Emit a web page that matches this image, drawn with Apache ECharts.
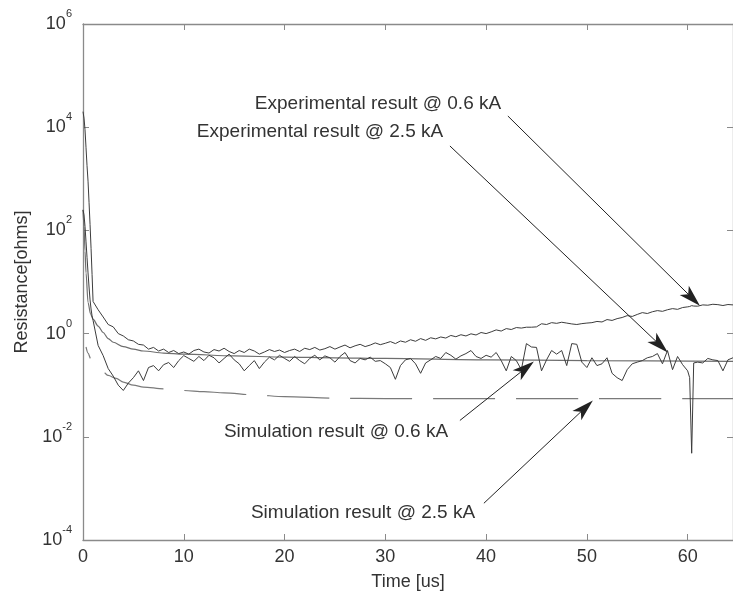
<!DOCTYPE html>
<html>
<head>
<meta charset="utf-8">
<script src="https://cdn.jsdelivr.net/npm/echarts@6/dist/echarts.min.js"></script>
<style>
  html, body { margin: 0; padding: 0; background: #fff; }
  #chart { width: 733px; height: 596px; }
</style>
</head>
<body>
<div id="chart"></div>
<script>
// time grid shared by the two measured curves [us]
const time = [
  0, 0.1, 0.2, 0.3, 0.4, 0.5, 0.6, 0.7, 0.8, 0.9, 1,
  1.5, 2, 2.5, 3, 3.5, 4, 4.5, 5, 5.5, 6, 6.5, 7, 7.5, 8, 8.5, 9, 9.5, 10,
  10.5, 11, 11.5, 12, 12.5, 13, 13.5, 14, 14.5, 15, 15.5, 16, 16.5, 17, 17.5, 18, 18.5, 19, 19.5, 20,
  20.5, 21, 21.5, 22, 22.5, 23, 23.5, 24, 24.5, 25, 25.5, 26, 26.5, 27, 27.5, 28, 28.5, 29, 29.5, 30,
  30.5, 31, 31.5, 32, 32.5, 33, 33.5, 34, 34.5, 35, 35.5, 36, 36.5, 37, 37.5, 38, 38.5, 39, 39.5, 40,
  40.5, 41, 41.5, 42, 42.5, 43, 43.5, 44, 44.5, 45, 45.5, 46, 46.5, 47, 47.5, 48, 48.5, 49, 49.5, 50,
  50.5, 51, 51.5, 52, 52.5, 53, 53.5, 54, 54.5, 55, 55.5, 56, 56.5, 57, 57.5, 58, 58.5, 59, 59.5, 60,
  60.2, 60.4, 60.6, 61, 61.5, 62, 62.5, 63, 63.5, 64, 64.5
];

// experimental result @ 0.6 kA [ohms]
const exp06 = [
  20000, 15000, 9000, 4000, 1800, 900, 350, 130, 45, 14, 4.2,
  2.9, 2.1, 1.5, 1.35, 1.0, 0.9, 0.76, 0.72, 0.62, 0.6, 0.5, 0.54, 0.46, 0.5, 0.43, 0.47, 0.41, 0.44,
  0.40, 0.47, 0.50, 0.44, 0.42, 0.49, 0.46, 0.52, 0.45, 0.41, 0.47, 0.43, 0.50, 0.46, 0.40, 0.44, 0.49, 0.45, 0.48, 0.43,
  0.47, 0.50, 0.45, 0.52, 0.49, 0.54, 0.48, 0.51, 0.56, 0.50, 0.55, 0.60, 0.53, 0.58, 0.62, 0.56, 0.60, 0.66, 0.61, 0.65,
  0.70, 0.64, 0.72, 0.68, 0.76, 0.71, 0.80, 0.74, 0.83, 0.79, 0.86, 0.82, 0.92, 0.87, 0.95, 0.90, 0.99, 0.94, 1.05, 1.0,
  1.08, 1.18, 1.12, 1.25, 1.20, 1.31, 1.28, 1.33, 1.33, 1.35, 1.55, 1.50, 1.63, 1.58, 1.66, 1.60, 1.54, 1.50, 1.56, 1.60,
  1.63, 1.72, 1.68, 1.87, 1.80, 1.95, 2.05, 2.23, 2.15, 2.35, 2.55, 2.45, 2.65, 2.79, 2.70, 2.90, 3.05, 2.95, 3.20, 3.30,
  3.35, 3.48, 3.42, 3.40, 3.60, 3.55, 3.70, 3.64, 3.50, 3.66, 3.60
];

// experimental result @ 2.5 kA [ohms]
const exp25 = [
  250, 200, 120, 60, 30, 15, 8, 4.5, 3, 2.2, 1.8,
  0.59, 0.375, 0.21, 0.15, 0.1, 0.079, 0.11, 0.14, 0.19, 0.123, 0.22, 0.24, 0.19, 0.25, 0.275, 0.22, 0.3, 0.375,
  0.33, 0.29, 0.36, 0.30, 0.38, 0.34, 0.27, 0.33, 0.40, 0.31, 0.26, 0.19, 0.24, 0.30, 0.21, 0.28, 0.35, 0.31, 0.38, 0.33,
  0.29, 0.36, 0.30, 0.26, 0.33, 0.38, 0.31, 0.37, 0.34, 0.28, 0.36, 0.43, 0.30, 0.27, 0.33, 0.31, 0.35, 0.29, 0.30, 0.26,
  0.22, 0.13, 0.24, 0.31, 0.33, 0.26, 0.17, 0.27, 0.31, 0.36, 0.33, 0.43, 0.38, 0.32, 0.37, 0.41, 0.47, 0.36, 0.33, 0.38,
  0.35, 0.43, 0.30, 0.19, 0.36, 0.30, 0.20, 0.64, 0.55, 0.54, 0.19, 0.31, 0.47, 0.40, 0.47, 0.24, 0.64, 0.62, 0.28, 0.22,
  0.34, 0.24, 0.26, 0.34, 0.17, 0.14, 0.123, 0.20, 0.26, 0.28, 0.30, 0.34, 0.36, 0.41, 0.26, 0.47, 0.20, 0.36, 0.25, 0.19,
  0.14, 0.0048, 0.27, 0.28, 0.27, 0.33, 0.31, 0.30, 0.19, 0.31, 0.34
];

// simulation result @ 0.6 kA
const sim06Time = [0, 0.1, 0.2, 0.3, 0.5, 0.75, 1, 1.5, 2, 2.5, 3, 4, 5, 6, 8, 10, 15, 20, 25, 30, 40, 50, 64.5];
const sim06 = [250, 120, 40, 15, 4, 2.4, 1.9, 1.4, 1.05, 0.8, 0.68, 0.56, 0.5, 0.46, 0.42, 0.40, 0.37, 0.35, 0.34, 0.33, 0.31, 0.30, 0.29];

// simulation result @ 2.5 kA
const sim25Time = [0.3, 0.5, 0.75, 1, 1.5, 2, 2.5, 3.3, 4, 5, 6, 8, 10, 12, 14, 17, 20, 25, 30, 40, 50, 64.5];
const sim25 = [0.55, 0.42, 0.33, 0.28, 0.22, 0.18, 0.155, 0.135, 0.115, 0.1, 0.092, 0.085, 0.079, 0.075, 0.071, 0.065, 0.06, 0.056, 0.055, 0.055, 0.055, 0.055];

const yTicks = [-4, -2, 0, 2, 4, 6]; // decades shown on the axis

// annotation texts [text, centre x, centre y] and arrows [from, to] in [t, log10 R]
const notes = [
  ['Experimental result @ 0.6 kA', 378, 104],
  ['Experimental result @ 2.5 kA', 320, 132],
  ['Simulation result @ 0.6 kA', 336, 432],
  ['Simulation result @ 2.5 kA', 363, 513]
];
const arrows = [
  [[42.16, 4.217], [60.44, 0.69]],
  [[36.41, 3.636], [57.24, -0.22]],
  [[37.4, -1.683], [43.89, -0.675]],
  [[39.78, -3.288], [49.8, -1.443]]
];

const FONT = '"Liberation Sans", Arial, Helvetica, sans-serif';
const ARROW = 'path://M0,0L6.5,22L0,16.5L-6.5,22Z';
const toLog = (t, v) => t.map((x, i) => [x, Math.log10(v[i])]);

const chart = echarts.init(document.getElementById('chart'), null, { renderer: 'canvas' });

const axisLine = { show: true, onZero: false, lineStyle: { color: '#8a8a8a', width: 1.3 } };
const tick = { show: true, inside: true, length: 6, lineStyle: { color: '#8a8a8a', width: 1 } };

const option = {
  animation: false,
  backgroundColor: '#fff',
  grid: { left: 83, right: -1, top: 24, bottom: 55 },
  xAxis: [
    {
      type: 'value', min: 0, max: 64.5, interval: 10, position: 'bottom',
      name: 'Time [us]', nameLocation: 'middle', nameGap: 33,
      nameTextStyle: { fontSize: 18, color: '#333', fontFamily: FONT },
      axisLine: axisLine, axisTick: tick, splitLine: { show: false },
      axisLabel: { fontSize: 18, color: '#333', fontFamily: FONT, margin: 8, showMaxLabel: false }
    },
    {
      type: 'value', min: 0, max: 64.5, interval: 10, position: 'top',
      axisLine: axisLine, axisTick: tick, splitLine: { show: false }, axisLabel: { show: false }
    }
  ],
  yAxis: [
    {
      type: 'value', min: -4, max: 6, interval: 2, position: 'left',
      name: 'Resistance[ohms]', nameLocation: 'middle', nameGap: 46,
      nameTextStyle: { fontSize: 18, color: '#333', fontFamily: FONT },
      axisLine: axisLine, axisTick: tick, splitLine: { show: false },
      axisLabel: {
        margin: 11,
        formatter: (v) => yTicks.includes(v) ? '{b|10}{e|' + v + '}' : '',
        rich: {
          b: { fontSize: 18, color: '#333', fontFamily: FONT },
          e: { fontSize: 11, color: '#333', fontFamily: FONT, padding: [0, 0, 20, 0] }
        }
      }
    },
    {
      type: 'value', min: -4, max: 6, interval: 2, position: 'right',
      axisLine: axisLine, axisTick: tick, splitLine: { show: false }, axisLabel: { show: false }
    }
  ],
  series: [
    {
      name: 'Simulation result @ 2.5 kA', type: 'line', showSymbol: false,
      smooth: 0.3, smoothMonotone: 'x',
      data: toLog(sim25Time, sim25),
      lineStyle: { color: '#7a7a7a', width: 1.2, type: [62, 21], dashOffset: 50 }
    },
    {
      name: 'Simulation result @ 0.6 kA', type: 'line', showSymbol: false,
      smooth: 0.3, smoothMonotone: 'x',
      data: toLog(sim06Time, sim06),
      lineStyle: { color: '#6e6e6e', width: 1.2 }
    },
    {
      name: 'Experimental result @ 2.5 kA', type: 'line', showSymbol: false,
      data: toLog(time, exp25),
      lineStyle: { color: '#3c3c3c', width: 1 }
    },
    {
      name: 'Experimental result @ 0.6 kA', type: 'line', showSymbol: false,
      data: toLog(time, exp06),
      lineStyle: { color: '#3c3c3c', width: 1 },
      markLine: {
        silent: true,
        symbol: ['none', ARROW],
        symbolSize: 22,
        symbolKeepAspect: true,
        label: { show: false },
        lineStyle: { color: '#222', width: 1, type: 'solid' },
        itemStyle: { color: '#111' },
        data: arrows.map(([a, b]) => [
          { coord: a, symbol: 'none' },
          { coord: b, symbol: ARROW, symbolSize: 22, symbolKeepAspect: true }
        ])
      }
    }
  ],
  graphic: notes.map(([text, x, y]) => ({
    type: 'text', x: x, y: y, silent: true,
    style: {
      text: text, fill: '#333', fontSize: 19, fontFamily: FONT,
      align: 'center', verticalAlign: 'middle',
      textAlign: 'center', textVerticalAlign: 'middle'
    }
  }))
};

chart.setOption(option);
</script>
</body>
</html>
